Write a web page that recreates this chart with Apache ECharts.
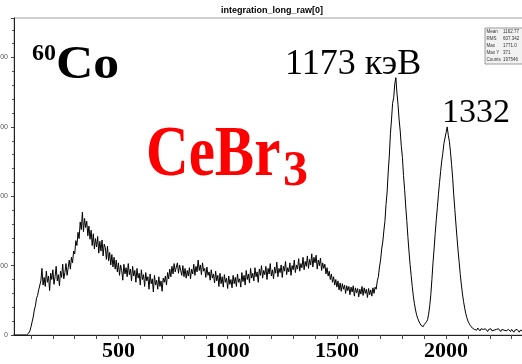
<!DOCTYPE html>
<html>
<head>
<meta charset="utf-8">
<script src="https://cdn.jsdelivr.net/npm/echarts@6/dist/echarts.min.js"></script>
<style>
html,body{margin:0;padding:0;background:#fff;}
#main{width:522px;height:364px;}
</style>
</head>
<body>
<div id="main"></div>
<script>
// спектр 60Co, CeBr3 : отсчёты в бинах по 5 каналов, начиная с канала 20
var binStart = 20;
var binWidth = 5;
var counts = [
  0,0,0,0,0,0,0,0,0,0,
  0,0,0,1,3,6,12,19,26,36,
  42,53,57,65,66,78,96,72,83,70,
  92,76,85,64,89,80,94,73,84,99,
  78,87,71,92,83,102,81,90,103,86,
  97,108,95,112,104,121,117,136,129,148,
  139,163,152,177,149,168,155,164,143,157,
  138,151,129,146,124,139,127,142,118,135,
  121,137,114,131,126,109,128,107,119,101,
  116,98,112,95,108,91,104,86,101,93,
  79,102,88,97,84,103,87,95,78,99,
  85,93,76,96,82,89,72,94,80,87,
  70,90,78,84,66,88,74,81,62,86,
  72,79,66,84,70,78,63,82,76,85,
  72,90,81,95,84,99,88,103,91,98,
  104,89,101,93,86,100,84,96,82,93,
  85,97,81,95,88,102,86,99,91,108,
  93,101,87,104,92,96,83,98,86,91,
  79,94,82,88,75,92,78,86,70,89,
  74,84,69,87,76,82,67,85,73,80,
  68,86,74,83,70,88,76,81,69,90,
  77,86,72,93,80,88,75,96,82,89,
  78,97,84,91,76,95,86,100,82,93,
  87,99,80,96,88,103,85,94,81,98,
  89,105,84,96,90,101,83,99,92,106,
  87,97,91,104,86,100,94,108,90,101,
  95,110,92,103,97,112,94,106,99,114,
  96,109,101,117,98,112,104,115,95,108,
  100,111,93,104,96,102,88,97,85,92,
  80,88,76,84,72,80,69,78,65,75,
  63,74,66,72,60,71,64,70,58,69,
  62,71,56,68,61,67,55,66,59,70,
  57,68,60,66,54,67,58,65,56,68,
  60,69,66,78,84,98,108,124,134,150,
  164,188,206,235,258,290,310,334,342,362,
  371,349,332,310,294,272,256,230,210,186,
  165,142,121,102,86,70,56,45,36,29,
  24,20,17,14,16,12,15,13,19,22,
  30,42,58,80,104,124,146,166,184,203,
  220,236,251,262,276,284,292,300,288,279,
  264,246,226,202,181,160,140,121,104,87,
  72,59,48,39,31,25,20,17,14,12,
  10,11,8,9,7,10,8,6,9,7,
  8,6,9,7,5,8,7,9,6,8,
  7,5,8,6,9,7,5,8,6,7,
  9,6,5,8,7,5,8,6,4,7,
  5,8,6,4,7,5,6
];
var xTicks = [100,200,300,400,500,600,700,800,900,1000,1100,1200,1300,1400,1500,1600,1700,1800,1900,2000,2100,2200,2300];
var xLabels = [500,1000,1500,2000];
var statNames = ['Mean', 'RMS', 'Max', 'Max Y', 'Counts'];
var statValues = ['1162.77', '607.342', '1771.0', '371', '197546'];

var points = [];
for (var i = 0; i < counts.length; i++) {
  points.push([binStart + i * binWidth, counts[i]]);
}

var statsGraphic = [{
  type: 'rect',
  shape: {x: 485, y: 28, width: 40, height: 36},
  style: {fill: '#f2f2f2', stroke: '#9a9a9a', lineWidth: 1}
}];
for (var k = 0; k < statNames.length; k++) {
  statsGraphic.push({
    type: 'text',
    style: {x: 486.5, y: 32 + k * 7, text: statNames[k], font: '4.5px "Liberation Sans"', fill: '#333', textVerticalAlign: 'middle'}
  });
  statsGraphic.push({
    type: 'text',
    style: {x: 503, y: 32 + k * 7, text: statValues[k], font: '4.5px "Liberation Sans"', fill: '#333', textVerticalAlign: 'middle'}
  });
}

var myChart = echarts.init(document.getElementById('main'));
myChart.setOption({
  animation: false,
  backgroundColor: '#fff',
  grid: {
    left: 14, top: 18, bottom: 29, right: -1,
    outerBoundsMode: 'none',
    containLabel: false,
    show: true, borderColor: '#a0a0a0', borderWidth: 1, backgroundColor: '#fff'
  },
  xAxis: {
    type: 'value',
    min: 22,
    max: 2352,
    axisLine: {lineStyle: {color: '#222', width: 1}},
    axisTick: {show: true, length: 4, lineStyle: {color: '#444'}, customValues: xTicks},
    axisLabel: {
      customValues: xLabels,
      margin: 5,
      color: '#000',
      fontFamily: '"Liberation Serif", "Times New Roman", serif',
      fontWeight: 'bold',
      fontSize: 22,
      formatter: function (v) { return String(v); }
    },
    splitLine: {show: false}
  },
  yAxis: {
    type: 'value',
    min: 0,
    max: 457,
    interval: 100,
    axisLine: {show: true, lineStyle: {color: '#222', width: 1}},
    axisTick: {show: true, length: 3, lineStyle: {color: '#444'}},
    minorTick: {show: true, splitNumber: 5, length: 2, lineStyle: {color: '#555'}},
    axisLabel: {
      margin: 6,
      color: '#555',
      fontSize: 7,
      fontFamily: '"Liberation Sans", sans-serif',
      formatter: function (v) { return v % 100 === 0 ? String(v) : ''; }
    },
    splitLine: {show: false}
  },
  graphic: [
    {type: 'text', style: {x: 272, y: 11, text: 'integration_long_raw[0]', font: 'bold 9px "Liberation Sans"', fill: '#000', textAlign: 'center', textVerticalAlign: 'middle'}},
    {type: 'text', style: {x: 32, y: 54, text: '60', font: 'bold 24px "Liberation Serif"', fill: '#000', textVerticalAlign: 'middle'}},
    {type: 'text', x: 56, y: 66, scaleX: 1.1, style: {x: 0, y: 0, text: 'Co', font: 'bold 47px "Liberation Serif"', fill: '#000', textVerticalAlign: 'middle'}},
    {type: 'text', style: {x: 285, y: 65, text: '1173 кэВ', font: '36px "Liberation Serif"', fill: '#000', textVerticalAlign: 'middle'}},
    {type: 'text', style: {x: 442, y: 113, text: '1332', font: '34px "Liberation Serif"', fill: '#000', textVerticalAlign: 'middle'}},
    {type: 'text', x: 146, y: 156, scaleX: 0.82, style: {x: 0, y: 0, text: 'CeBr', font: 'bold 72px "Liberation Serif"', fill: '#ff0000', textVerticalAlign: 'middle'}},
    {type: 'text', style: {x: 283, y: 172, text: '3', font: 'bold 50px "Liberation Serif"', fill: '#ff0000', textVerticalAlign: 'middle'}}
  ].concat(statsGraphic),
  series: [{
    type: 'line',
    data: points,
    showSymbol: false,
    symbol: 'none',
    lineStyle: {color: '#000', width: 1},
    emphasis: {disabled: true}
  }]
});
</script>
</body>
</html>
